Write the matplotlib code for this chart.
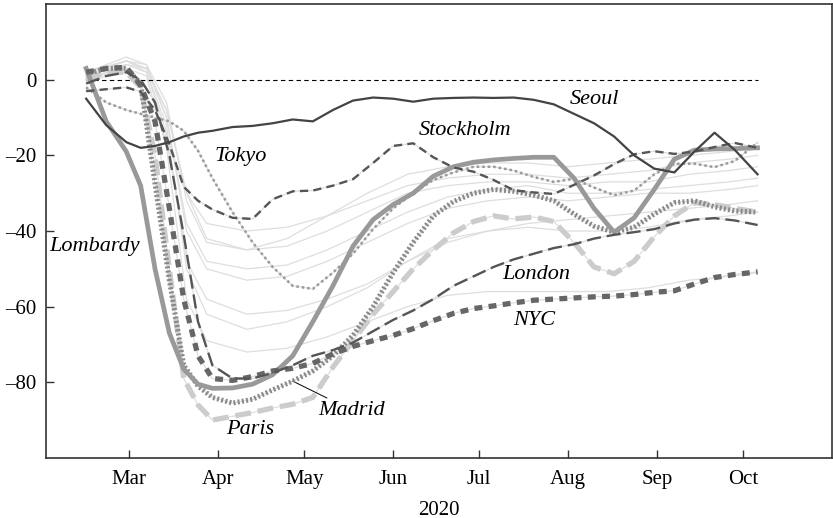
import numpy as np
import pandas as pd
import matplotlib
matplotlib.use("Agg")
import matplotlib.pyplot as plt
import matplotlib.dates as mdates

plt.rcParams['font.family'] = 'serif'
plt.rcParams['font.serif'] = ['Liberation Serif', 'DejaVu Serif']

# ---- dati (variazione % rispetto al baseline) ----
dates = pd.to_datetime([
    "2020-02-15", "2020-02-22", "2020-02-29", "2020-03-05", "2020-03-10",
    "2020-03-15", "2020-03-20", "2020-03-25", "2020-03-30", "2020-04-06",
    "2020-04-13", "2020-04-20", "2020-04-27", "2020-05-04", "2020-05-11",
    "2020-05-18", "2020-05-25", "2020-06-01", "2020-06-08", "2020-06-15",
    "2020-06-22", "2020-06-29", "2020-07-06", "2020-07-13", "2020-07-20",
    "2020-07-27", "2020-08-03", "2020-08-10", "2020-08-17", "2020-08-24",
    "2020-08-31", "2020-09-07", "2020-09-14", "2020-09-21", "2020-09-28",
    "2020-10-06"])

seoul = [-5, -12, -16.5, -18, -17.5, -16.5, -15, -14, -13.5, -12.5,
         -12.2, -11.5, -10.5, -11, -8, -5.5, -4.7, -5, -5.8, -5,
         -4.8, -4.7, -4.8, -4.7, -5.3, -6.5, -9, -11.5, -15, -20,
         -23.5, -24.5, -19, -14, -18.5, -25]
stockholm = [-3, -2.5, -2, -3.2, -8, -17, -28.3, -32, -34.3, -36.5,
             -36.8, -31.6, -29.5, -29.3, -28, -26.3, -22, -17.5, -16.8, -20.5,
             -23.2, -24.3, -26.5, -29.2, -29.8, -30.2, -27.8, -25.3, -22.3, -19.7,
             -18.9, -19.6, -19, -17.8, -16.7, -18]
tokyo = [-2, -6, -8, -9, -10, -11, -13.5, -18.8, -26, -35,
         -43, -49.5, -54.5, -55.3, -51, -46, -39.5, -34, -30, -26.5,
         -24.5, -23, -23, -24, -25.7, -27, -26.2, -28.5, -30.5, -29.3,
         -25, -22.2, -22.2, -23.1, -21.5, -16.6]
lombardy = [3, -11, -19, -28, -50, -67, -76.5, -80.5, -81.6, -81.5,
            -80.5, -78, -73, -64, -54.5, -44, -37, -33, -30, -25.5,
            -23, -21.8, -21.2, -20.8, -20.5, -20.5, -26, -34, -40.3, -36.5,
            -29, -21, -18.6, -18.3, -18.2, -18]
madrid = [1.5, 3, 3, -1, -27.5, -53, -75.5, -81, -84, -85.5,
          -84.5, -82, -79.7, -77, -73, -67.6, -60, -51, -43, -36,
          -32.2, -30, -29, -29.5, -30.5, -32, -35.5, -38.7, -40.3, -39,
          -35.5, -32.5, -32, -33.6, -34.7, -35]
paris = [0, 2, 2, -2, -20, -50, -79, -86, -90, -89,
         -88, -86.8, -85.8, -84, -76, -69, -62, -56, -50, -45,
         -40.5, -37.5, -36, -36.8, -36.3, -37.5, -43, -49.5, -51.3, -48,
         -41.5, -36, -32.5, -33, -34, -35]
london = [-1, 1, 2, 0, -6, -20, -41, -64, -75.5, -79,
          -79, -77.5, -75.5, -73, -71.5, -69.5, -66.5, -63.5, -61, -58,
          -54.5, -52, -49.5, -47.5, -46, -44.5, -43.5, -42, -41, -40.3,
          -39.5, -38, -37, -36.6, -37.2, -38.4]
nyc = [2, 3, 3.3, -1.5, -11, -34, -58, -73, -79, -79.5,
       -78.5, -77, -76.3, -75, -72.5, -70.5, -69, -67.6, -65.8, -63.7,
       -61.8, -60.5, -59.8, -59, -58.3, -58, -57.7, -57.4, -57.2, -56.8,
       -56.2, -55.8, -54, -52.3, -51.5, -50.8]

# altre città (sfondo, grigio chiaro)
dates_bg = pd.to_datetime([
    "2020-02-15", "2020-02-29", "2020-03-07", "2020-03-14", "2020-03-21",
    "2020-03-28", "2020-04-11", "2020-04-25", "2020-05-09", "2020-05-23",
    "2020-06-06", "2020-06-20", "2020-07-04", "2020-07-18", "2020-08-01",
    "2020-08-15", "2020-08-29", "2020-09-12", "2020-09-26", "2020-10-06"])
bg1 = [2, 5, 3, -8, -30, -38, -40, -39, -36, -32, -28, -26, -25, -25, -26, -25, -24, -22, -21, -20]
bg2 = [1, 5, 4, -6, -32, -43, -45, -44, -40, -35, -30, -28, -27, -27, -28, -27, -27, -25, -24, -23]
bg3 = [2, 6, 4, -10, -38, -48, -50, -49, -45, -40, -35, -31, -29, -28, -30, -30, -29, -28, -27, -26]
bg4 = [0, 4, 3, -10, -40, -50, -53, -52, -48, -43, -38, -34, -32, -31, -32, -31, -30, -30, -29, -28]
bg5 = [1, 5, 2, -14, -48, -58, -62, -61, -58, -54, -48, -43, -40, -38, -37, -36, -35, -34, -33, -32]
bg6 = [0, 3, 1, -18, -58, -69, -72, -71, -68, -64, -60, -57, -56, -56, -56, -56, -55, -53, -52, -51]
bg7 = [1, 4, 2, -12, -50, -62, -66, -64, -60, -55, -48, -42, -40, -39, -40, -40, -39, -37, -36, -35]
bg8 = [2, 5, 3, -8, -30, -42, -45, -42, -36, -30, -25, -23, -22, -22, -23, -22, -21, -20, -19, -18]

yticks = [0, -20, -40, -60, -80]
ytick_labels = ["0", "\u201320", "\u201340", "\u201360", "\u201380"]

fig, ax = plt.subplots(figsize=(8.33, 5.18), dpi=100)
fig.subplots_adjust(left=0.0552, right=0.999, top=0.992, bottom=0.116)

for s in [bg1, bg2, bg3, bg4, bg5, bg6, bg7, bg8]:
    ax.plot(dates_bg, s, color='#dedede', lw=0.9, zorder=1)
for s in [seoul, stockholm, tokyo, lombardy, madrid, paris, london, nyc]:
    ax.plot(dates, s, color='#dedede', lw=0.9, zorder=1)

ax.hlines(0, dates[0], dates[-1], colors='black', linestyles=(0, (4, 3)), lw=0.8, zorder=2)

ax.plot(dates, paris, color='#cccccc', lw=3.8, dashes=(3, 1.3), zorder=3)
ax.plot(dates, madrid, color='#888888', lw=3.6, dashes=(0.4, 0.45), zorder=4)
ax.plot(dates, lombardy, color='#999999', lw=3.4, zorder=4)
ax.plot(dates, nyc, color='#666666', lw=3.8, dashes=(1.5, 1.2), zorder=5)
ax.plot(dates, tokyo, color='#999999', lw=1.8, dashes=(1, 1.2), zorder=5)
ax.plot(dates, london, color='#555555', lw=1.7, dashes=(6, 2.5), zorder=6)
ax.plot(dates, stockholm, color='#555555', lw=1.7, dashes=(3.5, 2.2), zorder=6)
ax.plot(dates, seoul, color='#444444', lw=1.6, zorder=7)

# etichette
lab = dict(fontsize=16, style='italic', ha='center', va='center')
ax.text(pd.Timestamp("2020-08-10"), -5.3, "Seoul", **lab)
ax.text(pd.Timestamp("2020-06-26"), -13.4, "Stockholm", **lab)
ax.text(pd.Timestamp("2020-04-09"), -20.3, "Tokyo", **lab)
ax.text(pd.Timestamp("2020-02-18"), -44, "Lombardy", **lab)
ax.text(pd.Timestamp("2020-07-21"), -51.6, "London", **lab)
ax.text(pd.Timestamp("2020-07-20"), -63.7, "NYC", **lab)
ax.text(pd.Timestamp("2020-04-12"), -92.6, "Paris", **lab)
ax.annotate("Madrid", xy=(dates[12], madrid[12]),
            xytext=(pd.Timestamp("2020-05-06"), -87.4),
            fontsize=16, style='italic', ha='left', va='center',
            arrowprops=dict(arrowstyle='-', color='black', lw=0.7,
                            shrinkA=0, shrinkB=0))

ax.set_xlim(pd.Timestamp("2020-02-01"), pd.Timestamp("2020-11-01"))
ax.set_ylim(-100, 20)
ax.set_yticks(yticks)
ax.set_yticklabels(ytick_labels)
ax.xaxis.set_major_locator(mdates.MonthLocator(bymonth=range(3, 11)))
ax.xaxis.set_major_formatter(mdates.DateFormatter('%b'))
ax.set_xlabel("2020", fontsize=15, labelpad=8)
ax.tick_params(direction='in', length=6, width=1, labelsize=15, colors='#333333',
               labelcolor='black')
ax.tick_params(axis='x', pad=9)
ax.tick_params(axis='y', pad=7)
for sp in ax.spines.values():
    sp.set_color('#333333')
    sp.set_linewidth(1.2)

plt.savefig("out.png", dpi=100)
